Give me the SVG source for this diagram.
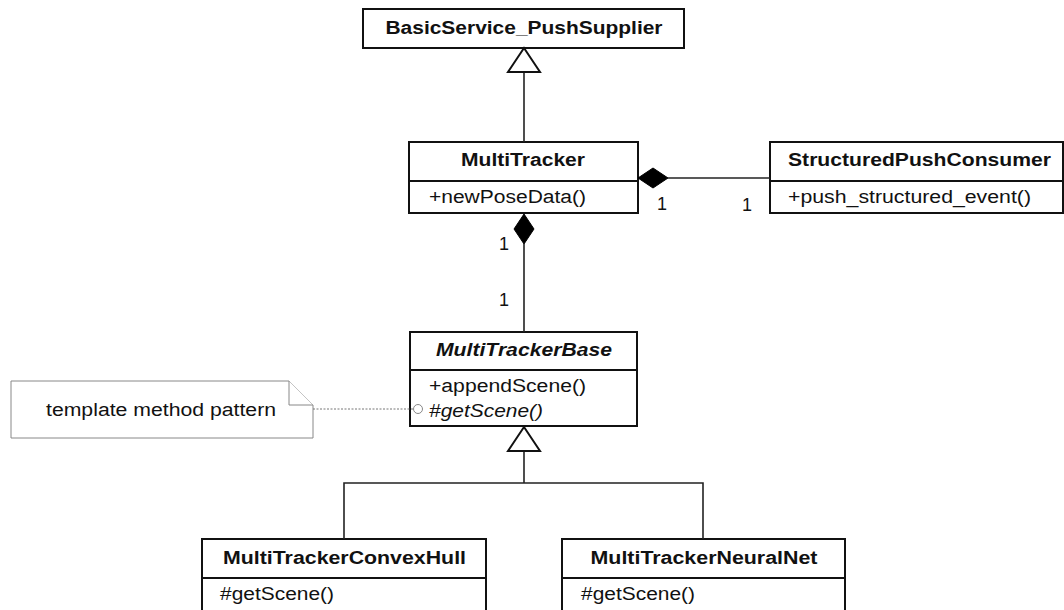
<svg xmlns="http://www.w3.org/2000/svg" width="1064" height="610" viewBox="0 0 1064 610">
<style>
.box{fill:#fff;stroke:#111;stroke-width:2}
.div{stroke:#111;stroke-width:2}
text{font-family:"Liberation Sans",Arial,sans-serif;font-size:18px;fill:#111}
.t{font-weight:bold;text-anchor:middle}
.i{font-style:italic}
.con{fill:none;stroke:#222;stroke-width:1.6}
.gen{fill:#fff;stroke:#111;stroke-width:2}
.dia{fill:#000;stroke:#000;stroke-width:1}
.note{fill:#fff;stroke:#888;stroke-width:1}
</style>
<rect width="1064" height="610" fill="#fff"/>
<g id="BasicService_PushSupplier">
<rect class="box" x="363" y="9" width="321" height="39"/>
<text class="t" x="524" y="34" textLength="277" lengthAdjust="spacingAndGlyphs">BasicService_PushSupplier</text>
</g>
<g id="MultiTracker">
<rect class="box" x="409" y="142" width="229" height="71"/>
<line class="div" x1="409" y1="181" x2="638" y2="181"/>
<text class="t" x="523" y="166" textLength="124" lengthAdjust="spacingAndGlyphs">MultiTracker</text>
<text x="429" y="203" textLength="157" lengthAdjust="spacingAndGlyphs">+newPoseData()</text>
</g>
<g id="StructuredPushConsumer">
<rect class="box" x="770" y="142" width="293" height="71"/>
<line class="div" x1="770" y1="181" x2="1063" y2="181"/>
<text class="t" x="919.5" y="166" textLength="263" lengthAdjust="spacingAndGlyphs">StructuredPushConsumer</text>
<text x="788" y="203" textLength="243" lengthAdjust="spacingAndGlyphs">+push_structured_event()</text>
</g>
<g id="MultiTrackerBase">
<rect class="box" x="410" y="332" width="227" height="94"/>
<line class="div" x1="410" y1="370" x2="637" y2="370"/>
<text class="t i" x="524" y="356" textLength="176" lengthAdjust="spacingAndGlyphs">MultiTrackerBase</text>
<text x="429" y="392" textLength="157" lengthAdjust="spacingAndGlyphs">+appendScene()</text>
<text class="i" x="429" y="417" textLength="114" lengthAdjust="spacingAndGlyphs">#getScene()</text>
</g>
<g id="note">
<path class="note" d="M11,381 H289 L313,405 V438 H11 Z"/>
<path class="note" d="M289,381 V405 H313" fill="none"/>
<text x="46" y="416" textLength="230" lengthAdjust="spacingAndGlyphs">template method pattern</text>
</g>
<g id="MultiTrackerConvexHull">
<rect class="box" x="202" y="539" width="284" height="80"/>
<line class="div" x1="202" y1="578" x2="486" y2="578"/>
<text class="t" x="344.5" y="564" textLength="243" lengthAdjust="spacingAndGlyphs">MultiTrackerConvexHull</text>
<text x="220" y="600" textLength="114" lengthAdjust="spacingAndGlyphs">#getScene()</text>
</g>
<g id="MultiTrackerNeuralNet">
<rect class="box" x="562" y="539" width="283" height="80"/>
<line class="div" x1="562" y1="578" x2="845" y2="578"/>
<text class="t" x="704" y="564" textLength="227" lengthAdjust="spacingAndGlyphs">MultiTrackerNeuralNet</text>
<text x="581" y="600" textLength="114" lengthAdjust="spacingAndGlyphs">#getScene()</text>
</g>
<g id="connectors">
<line class="con" x1="524" y1="72" x2="524" y2="142"/>
<polygon class="gen" points="524,48 508,72 540,72"/>
<line class="con" x1="668" y1="178" x2="770" y2="178"/>
<polygon class="dia" points="638,178 653,168 668,178 653,188"/>
<text x="657" y="210">1</text>
<text x="742" y="211">1</text>
<line class="con" x1="524" y1="244" x2="524" y2="332"/>
<polygon class="dia" points="524,214 534,229 524,244 514,229"/>
<text x="499" y="250">1</text>
<text x="499" y="306">1</text>
<polyline class="con" points="344,539 344,483 703,483 703,539"/>
<line class="con" x1="524" y1="451" x2="524" y2="483"/>
<polygon class="gen" points="524,427 508,451 540,451"/>
<line x1="313" y1="409" x2="413.5" y2="409" stroke="#777" stroke-width="1" stroke-dasharray="2,1.5"/>
<circle cx="418" cy="409" r="4.5" fill="#fff" stroke="#888" stroke-width="1"/>
</g>
</svg>
